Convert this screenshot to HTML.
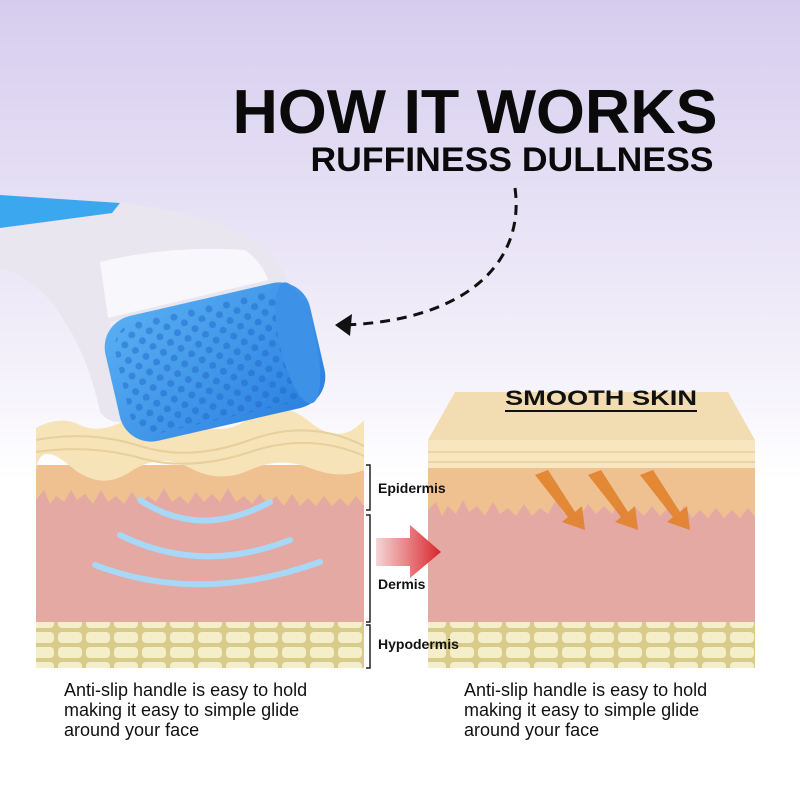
<!DOCTYPE html>
<html><head><style>
body{margin:0;width:800px;height:800px;overflow:hidden;background:#fff;font-family:"Liberation Sans",sans-serif}
</style></head><body>
<svg width="800" height="800" viewBox="0 0 800 800" xmlns="http://www.w3.org/2000/svg">
<defs>
<linearGradient id="bg" x1="0" y1="0" x2="0" y2="1">
<stop offset="0" stop-color="#d6cdee"/><stop offset="0.45" stop-color="#f3f0fa"/><stop offset="0.6" stop-color="#fff"/></linearGradient>
<linearGradient id="ra" x1="0" y1="0" x2="1" y2="0"><stop offset="0" stop-color="#f6d6d6"/><stop offset="1" stop-color="#d8262c"/></linearGradient>
<linearGradient id="roll" x1="0" y1="0" x2="1" y2="1"><stop offset="0" stop-color="#5ab0f2"/><stop offset="1" stop-color="#2a7fe0"/></linearGradient>
<pattern id="cells" width="28" height="15" patternUnits="userSpaceOnUse">
<rect width="28" height="15" fill="#d9cc8a"/>
<rect x="2" y="2" width="24" height="11" rx="4" fill="#f4eecb"/></pattern>
<pattern id="dots" width="18" height="16" patternUnits="userSpaceOnUse">
<circle cx="5" cy="5" r="3.5" fill="#1f68cc"/><circle cx="14" cy="13" r="3.5" fill="#1f68cc"/></pattern>
<clipPath id="cl"><rect x="36" y="380" width="328" height="300"/></clipPath>
<clipPath id="cr"><rect x="428" y="380" width="327" height="300"/></clipPath>
</defs>
<rect width="800" height="800" fill="url(#bg)"/>
<text x="475" y="133" font-size="62" font-weight="bold" text-anchor="middle" fill="#0a0a0a" textLength="485" lengthAdjust="spacingAndGlyphs">HOW IT WORKS</text>
<text x="512" y="171" font-size="34" font-weight="bold" text-anchor="middle" fill="#0a0a0a" textLength="403" lengthAdjust="spacingAndGlyphs">RUFFINESS DULLNESS</text>
<path d="M515 188 C525 260 470 320 345 325" fill="none" stroke="#111" stroke-width="3" stroke-dasharray="10 7"/>
<path d="M335 325 L352 314 L350 336 Z" fill="#111"/>

<!-- left skin -->
<g clip-path="url(#cl)">
<rect x="36" y="465" width="328" height="60" fill="#efc090"/>
<rect x="36" y="515" width="328" height="108" fill="#e3a9a2"/>
<path d="M36 500 l8 -10 6 14 6 -8 8 6 7 -12 6 10 8 -6 8 10 8 -14 7 12 8 -6 8 8 8 -12 8 12 8 -8 8 6 8 -14 8 14 8 -6 8 8 8 -12 8 10 8 -8 8 8 8 -14 8 14 8 -6 8 8 8 -10 8 10 8 -8 8 10 8 -12 8 12 8 -8 8 8 8 -10 8 10 8 -8 8 8 8 -10 8 10 8 -6 8 8 8 -8 8 8 V525 H36Z" fill="#e3a9a2"/>
<path d="M36 428 Q60 415 80 425 T130 418 T190 420 T250 418 T310 422 T364 420 V470 Q340 480 310 468 T250 470 T190 468 T130 472 T70 466 T36 470 Z" fill="#f6e3b8"/>
<path d="M36 440 Q90 430 140 446 T250 440 T364 446 M36 452 Q90 444 140 458 T250 452 T364 456" stroke="#e8cf9c" stroke-width="2" fill="none"/>
<rect x="36" y="622" width="328" height="46" fill="url(#cells)"/>
</g>
<g fill="none" stroke="#a8d8f7" stroke-width="6" stroke-linecap="round">
<path d="M140 500 Q200 540 270 502"/><path d="M120 535 Q200 575 290 540"/><path d="M95 565 Q200 605 320 562"/></g>

<!-- right skin -->
<g clip-path="url(#cr)">
<path d="M428 440 L455 392 H728 L755 440Z" fill="#f2dcb2"/>
<rect x="428" y="440" width="327" height="30" fill="#f7e6bf"/>
<path d="M428 452 H755 M428 462 H755" stroke="#e8cf9c" stroke-width="1.5"/>
<rect x="428" y="468" width="327" height="60" fill="#efc090"/>
<rect x="428" y="520" width="327" height="103" fill="#e3a9a2"/>
<path d="M428 510 l8 -8 6 14 6 -10 8 8 7 -14 6 12 8 -6 8 10 8 -14 7 12 8 -6 8 8 8 -12 8 12 8 -8 8 6 8 -14 8 14 8 -6 8 8 8 -12 8 10 8 -8 8 8 8 -14 8 14 8 -6 8 8 8 -10 8 10 8 -8 8 10 8 -12 8 12 8 -8 8 8 8 -10 8 10 8 -8 8 8 8 -10 8 10 8 -8 8 8 V530 H428Z" fill="#e3a9a2"/>
<rect x="428" y="622" width="327" height="46" fill="url(#cells)"/>
</g>
<g fill="#e2822c" opacity="0.9">
<path d="M535 475 L548 470 L575 512 L582 506 L585 530 L562 522 L568 517 Z"/>
<path d="M588 475 L601 470 L628 512 L635 506 L638 530 L615 522 L621 517 Z"/>
<path d="M640 475 L653 470 L680 512 L687 506 L690 530 L667 522 L673 517 Z"/></g>
<text x="601" y="405" font-size="21" font-weight="bold" text-anchor="middle" fill="#111" textLength="192" lengthAdjust="spacingAndGlyphs">SMOOTH SKIN</text>
<rect x="505" y="410" width="192" height="2" fill="#111"/>

<!-- labels & arrow -->
<g stroke="#222" stroke-width="1.5" fill="none"><path d="M366 465 H370 V510 H366 M366 515 H370 V622 H366 M366 625 H370 V668 H366"/></g>
<text x="378" y="493" font-size="14" font-weight="bold" fill="#111">Epidermis</text>
<text x="378" y="589" font-size="14" font-weight="bold" fill="#111">Dermis</text>
<text x="378" y="649" font-size="14" font-weight="bold" fill="#111">Hypodermis</text>
<path d="M376 538 H410 V525 L441 552 L410 578 V566 H376Z" fill="url(#ra)"/>

<!-- roller -->
<path d="M0 195 L120 203 Q200 212 245 235 Q275 252 288 282 L110 322 Q125 395 132 418 Q112 428 100 412 Q85 340 45 295 Q22 272 0 268 Z" fill="#e9e6ef"/>
<path d="M0 195 L120 203 L112 213 Q60 220 0 228Z" fill="#3ba7ee"/>
<path d="M100 262 Q170 245 245 250 Q262 262 268 280 L108 318 Q104 290 100 262Z" fill="#f8f8fc"/>
<g transform="rotate(-13 215 362)">
<rect x="110" y="298" width="210" height="128" rx="32" fill="url(#roll)"/>
<rect x="120" y="305" width="180" height="114" rx="26" fill="url(#dots)" opacity="0.5"/>
<ellipse cx="300" cy="362" rx="18" ry="62" fill="#3d92e8"/>
</g>

<g font-size="18" fill="#111">
<text x="64" y="696">Anti-slip handle is easy to hold</text>
<text x="64" y="716">making it easy to simple glide</text>
<text x="64" y="736">around your face</text>
<text x="464" y="696">Anti-slip handle is easy to hold</text>
<text x="464" y="716">making it easy to simple glide</text>
<text x="464" y="736">around your face</text>
</g>
</svg>
</body></html>
